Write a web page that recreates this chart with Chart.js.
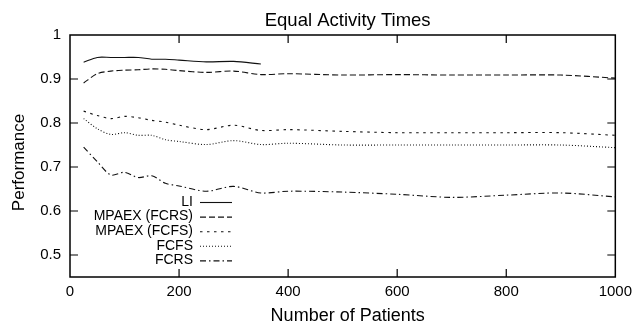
<!DOCTYPE html>
<html>
<head>
<meta charset="utf-8">
<script src="https://cdn.jsdelivr.net/npm/chart.js@4/dist/chart.umd.min.js"></script>
<style>
  html, body { margin: 0; padding: 0; background: #fff; }
  #wrap { width: 638px; height: 327px; }
</style>
</head>
<body>
<div id="wrap"><canvas id="myChart" width="638" height="327"></canvas></div>
<script>
// number of patients (x positions of the samples)
const patients = [25, 50, 75, 100, 125, 150, 175, 200, 250, 300, 350, 400, 500, 600, 700, 800, 900, 1000];

// performance per scheduler
const li        = [0.938, 0.949, 0.949, 0.949, 0.949, 0.945, 0.945, 0.943, 0.939, 0.940, 0.934, null, null, null, null, null, null, null];
const mpaexFcrs = [0.891, 0.912, 0.918, 0.920, 0.921, 0.923, 0.922, 0.919, 0.915, 0.918, 0.910, 0.912, 0.909, 0.910, 0.909, 0.909, 0.909, 0.902];
const mpaexFcfs = [0.827, 0.817, 0.810, 0.815, 0.812, 0.806, 0.802, 0.795, 0.785, 0.795, 0.783, 0.785, 0.781, 0.778, 0.778, 0.778, 0.778, 0.772];
const fcfs      = [0.810, 0.787, 0.774, 0.778, 0.772, 0.772, 0.762, 0.758, 0.751, 0.760, 0.751, 0.754, 0.750, 0.750, 0.750, 0.750, 0.750, 0.744];
const fcrs      = [0.745, 0.712, 0.682, 0.688, 0.676, 0.680, 0.663, 0.657, 0.645, 0.656, 0.641, 0.645, 0.643, 0.638, 0.631, 0.636, 0.641, 0.632];

const xTicks = [0, 200, 400, 600, 800, 1000];
const yTicks = [0.5, 0.6, 0.7, 0.8, 0.9, 1];

const chartTitle = "Equal Activity Times";
const xTitle = "Number of Patients";
const yTitle = "Performance";

const FONT = "'Liberation Sans', Arial, Helvetica, sans-serif";
const INK = "#111";

const toPoints = (arr) => patients.map((x, i) => ({ x, y: arr[i] }));

// gnuplot-like frame with inward ticks on all four sides, titles and the legend
const framePlugin = {
  id: "frame",
  afterDatasetsDraw(chart) {
    const { ctx, chartArea: a, scales: { x, y } } = chart;
    const tl = 8;
    ctx.save();
    ctx.strokeStyle = "#000";
    ctx.lineWidth = 1.5;
    ctx.setLineDash([]);
    ctx.strokeRect(a.left, a.top, a.right - a.left, a.bottom - a.top);

    ctx.lineWidth = 1.2;
    ctx.beginPath();
    xTicks.forEach((v) => {
      const px = x.getPixelForValue(v);
      if (px <= a.left + 1 || px >= a.right - 1) return;
      ctx.moveTo(px, a.bottom); ctx.lineTo(px, a.bottom - tl);
      ctx.moveTo(px, a.top); ctx.lineTo(px, a.top + tl);
    });
    yTicks.forEach((v) => {
      const py = y.getPixelForValue(v);
      if (py <= a.top + 1 || py >= a.bottom - 1) return;
      ctx.moveTo(a.left, py); ctx.lineTo(a.left + tl, py);
      ctx.moveTo(a.right, py); ctx.lineTo(a.right - tl, py);
    });
    ctx.stroke();

    // titles, centred a little right of the plot centre like the original
    const cx = (a.left + a.right) / 2 + 5;
    ctx.fillStyle = "#000";
    ctx.textAlign = "center";
    ctx.textBaseline = "middle";
    ctx.font = "18.5px " + FONT;
    ctx.fillText(chartTitle, cx, a.top - 14);
    ctx.font = "18px " + FONT;
    ctx.fillText(xTitle, cx, a.bottom + 39.5);
    ctx.save();
    ctx.translate(19, (a.top + a.bottom) / 2 + 6.5);
    ctx.rotate(-Math.PI / 2);
    ctx.font = "17px " + FONT;
    ctx.fillText(yTitle, 0, 0);
    ctx.restore();

    // legend: text right aligned, sample line on its right
    const textRight = a.left + 123;
    const sx0 = a.left + 130, sx1 = a.left + 162;
    const rowTop = a.top + 167;
    const rowGap = 14.6;
    ctx.font = "14px " + FONT;
    ctx.textAlign = "right";
    chart.data.datasets.forEach((ds, i) => {
      const ry = rowTop + i * rowGap;
      ctx.fillStyle = "#000";
      ctx.fillText(ds.label, textRight, ry);
      ctx.strokeStyle = ds.borderColor;
      ctx.lineWidth = ds.borderWidth;
      ctx.setLineDash(ds.borderDash || []);
      ctx.beginPath();
      ctx.moveTo(sx0, ry + 0.5);
      ctx.lineTo(sx1, ry + 0.5);
      ctx.stroke();
    });
    ctx.restore();
  }
};

const lineStyle = (dash) => ({
  borderColor: INK,
  borderWidth: 1.1,
  borderDash: dash,
  pointRadius: 0,
  fill: false,
  tension: 0.3,
  spanGaps: false
});

new Chart(document.getElementById("myChart"), {
  type: "line",
  data: {
    datasets: [
      { label: "LI", data: toPoints(li), ...lineStyle([]) },
      { label: "MPAEX (FCRS)", data: toPoints(mpaexFcrs), ...lineStyle([6, 3]) },
      { label: "MPAEX (FCFS)", data: toPoints(mpaexFcfs), ...lineStyle([2.5, 4.5]) },
      { label: "FCFS", data: toPoints(fcfs), ...lineStyle([1, 2]) },
      { label: "FCRS", data: toPoints(fcrs), ...lineStyle([6, 3, 1.5, 3]) }
    ]
  },
  options: {
    responsive: false,
    animation: false,
    layout: { padding: { left: 0, right: 19, top: 35, bottom: 0 } },
    plugins: {
      legend: { display: false },
      tooltip: { enabled: false },
      title: { display: false }
    },
    scales: {
      x: {
        type: "linear",
        min: 0,
        max: 1000,
        afterFit: (s) => { s.height = 50; },
        afterBuildTicks: (s) => { s.ticks = xTicks.map((v) => ({ value: v })); },
        grid: { display: false, drawTicks: false },
        border: { display: false },
        ticks: {
          color: "#000",
          padding: 6,
          maxRotation: 0,
          font: { family: FONT, size: 15 },
          callback: (v) => String(v)
        }
      },
      y: {
        min: 0.45,
        max: 1,
        afterFit: (s) => { s.width = 70; },
        afterBuildTicks: (s) => { s.ticks = yTicks.map((v) => ({ value: v })); },
        grid: { display: false, drawTicks: false },
        border: { display: false },
        ticks: {
          color: "#000",
          padding: 9,
          font: { family: FONT, size: 15 },
          callback: (v) => (v === 1 ? "1" : v.toFixed(1))
        }
      }
    }
  },
  plugins: [framePlugin]
});
</script>
</body>
</html>
